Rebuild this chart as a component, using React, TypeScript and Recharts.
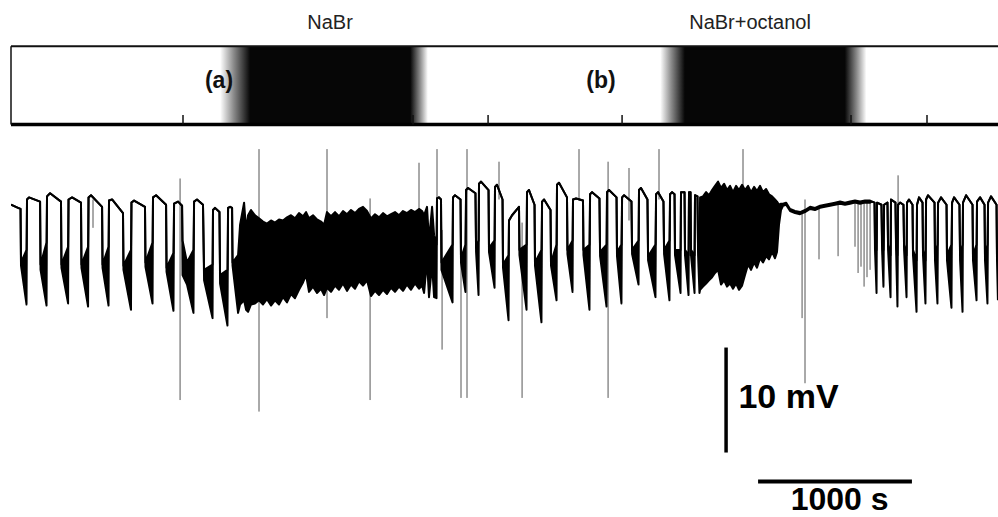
import { Area, ComposedChart, ReferenceArea, ReferenceDot, ReferenceLine, XAxis, YAxis } from 'recharts';

// membrane potential trace, min/max envelope per time step: [time s, upper mV, lower mV]
const burstsA: [number, number, number][] = [
  [0, 10.5, 10.5], [46, 10.2, 10.2], [62, 10.1, 10.1], [65, 5.0, 4.7], [101, 6.2, 1.0],
  [104, 11.0, 11.0], [117, 11.2, 11.2], [189, 10.8, 10.8], [192, 4.8, 4.3], [231, 6.9, 0.9],
  [234, 11.3, 11.3], [254, 11.6, 11.6], [325, 10.8, 10.8], [328, 4.8, 4.5], [371, 6.5, 1.1],
  [374, 11.0, 11.0], [397, 11.2, 11.2], [455, 10.7, 10.7], [458, 4.8, 4.5], [501, 6.5, 0.8],
  [504, 11.2, 11.2], [520, 11.4, 11.4], [592, 10.3, 10.3], [595, 4.8, 4.5], [634, 6.5, 0.9],
  [637, 10.9, 10.9], [657, 11.0, 11.0], [728, 9.7, 9.7], [731, 4.7, 4.3], [780, 6.2, 0.5],
  [783, 10.7, 10.7], [800, 10.9, 10.9], [871, 10.3, 10.3], [874, 5.0, 4.6], [920, 6.9, 1.1],
  [923, 11.2, 11.2], [943, 11.4, 11.4], [1008, 10.5, 10.5], [1011, 4.5, 4.1], [1056, 5.9, 0.4],
  [1060, 10.6, 10.6], [1086, 10.8, 10.8], [1112, 10.4, 10.4], [1115, 7.1, 3.8], [1144, 5.0, 2.9], [1186, 6.2, 0.2],
  [1190, 10.8, 10.8], [1209, 11.0, 11.0], [1248, 10.5, 10.5], [1255, 4.3, 3.3], [1310, 4.8, -0.3],
  [1313, 10.0, 10.0], [1326, 10.2, 10.2], [1355, 9.8, 9.8], [1359, 3.8, 3.0], [1407, 4.3, -1.0],
  [1411, 10.2, 10.2], [1424, 10.3, 10.3], [1437, 10.2, 10.2], [1440, 5.0, 4.7], [1476, 5.7, 0.2],
  [1489, 8.6, 1.0], [1515, 10.7, 1.4], [1528, 8.1, 0.5], [1541, 9.5, 0.3], [1560, 10.0, 1.0],
];

// NaBr: fast oscillation, envelope only
const denseA: [number, number, number][] = [
  [1586, 9.5, 1.1], [1612, 9.2, 1.4], [1638, 8.9, 1.0], [1664, 8.7, 1.5], [1690, 9.0, 0.9],
  [1716, 8.8, 1.4], [1742, 9.1, 1.0], [1768, 9.0, 1.7], [1794, 9.3, 1.2], [1820, 9.5, 2.0],
  [1846, 9.2, 1.6], [1872, 9.7, 2.4], [1898, 9.4, 3.1], [1918, 9.8, 3.8], [1937, 9.2, 2.2],
  [1963, 9.5, 2.7], [1989, 9.1, 2.1], [2015, 8.9, 2.5], [2035, 8.6, 1.9], [2054, 9.8, 2.6],
  [2080, 9.4, 2.2], [2106, 9.8, 2.8], [2132, 9.4, 2.4], [2158, 9.9, 3.0], [2184, 9.6, 2.3],
  [2210, 10.0, 2.9], [2236, 9.7, 2.5], [2262, 10.1, 3.2], [2288, 10.3, 2.8], [2314, 9.9, 3.3],
  [2340, 9.2, 1.8], [2366, 9.6, 2.3], [2392, 9.3, 1.9], [2418, 9.7, 2.4], [2444, 9.4, 2.0],
  [2470, 9.6, 2.6], [2496, 9.8, 2.2], [2522, 9.5, 2.7], [2548, 9.9, 2.3], [2574, 9.7, 2.9],
  [2600, 10.0, 2.4], [2626, 9.8, 3.0], [2652, 10.1, 2.5], [2672, 9.9, 2.8],
  [2685, 9.5, 2.1], [2704, 10.3, 5.2], [2717, 7.1, 1.7], [2737, 10.3, 4.8], [2750, 7.6, 1.7], [2766, 6.7, 1.6],
];

// washout bursts
const burstsB: [number, number, number][] = [
  [2769, 11.1, 11.1], [2782, 11.2, 11.2], [2795, 11.0, 11.0], [2798, 5.0, 4.3], [2870, 6.7, 1.2],
  [2873, 11.2, 11.2], [2886, 11.4, 11.4], [2922, 11.0, 11.0], [2925, 5.4, 5.0], [2954, 6.7, 2.2],
  [2958, 11.9, 11.9], [2971, 12.1, 12.1], [3019, 11.6, 11.6], [3023, 6.4, 6.0], [3039, 7.1, 1.9],
  [3042, 12.5, 12.5], [3055, 12.7, 12.7], [3104, 11.9, 11.9], [3107, 6.4, 6.0], [3143, 7.1, 2.6],
  [3146, 12.2, 12.2], [3159, 12.4, 12.4], [3195, 11.0, 11.0], [3198, 4.8, 4.5], [3234, 5.7, -0.5],
  [3237, 9.0, 9.0], [3257, 9.5, 9.5], [3302, 10.3, 10.3], [3305, 6.2, 5.7], [3351, 6.7, 0.5],
  [3354, 11.7, 11.7], [3367, 11.9, 11.9], [3403, 10.5, 10.5], [3406, 5.0, 4.7], [3448, 6.2, -0.7],
  [3452, 10.8, 10.8], [3465, 11.0, 11.0], [3507, 10.0, 10.0], [3510, 5.0, 4.7], [3546, 6.7, 1.4],
  [3549, 12.4, 12.4], [3562, 12.6, 12.6], [3614, 11.2, 11.2], [3617, 6.2, 5.8], [3650, 7.1, 2.2],
  [3653, 11.0, 11.0], [3673, 11.1, 11.1], [3718, 10.9, 10.9], [3721, 6.2, 5.7], [3760, 6.7, 0.5],
  [3764, 11.5, 11.5], [3777, 11.7, 11.7], [3825, 11.1, 11.1], [3829, 6.0, 5.6], [3871, 6.7, 0.8],
  [3874, 11.7, 11.7], [3887, 11.9, 11.9], [3936, 11.2, 11.2], [3939, 6.0, 5.6], [3968, 6.7, 1.1],
  [3972, 11.2, 11.2], [3985, 11.4, 11.4], [4033, 10.8, 10.8], [4037, 6.2, 5.8], [4079, 7.1, 2.9],
  [4082, 11.9, 11.9], [4095, 12.1, 12.1], [4137, 11.0, 11.0], [4141, 5.6, 5.2], [4189, 6.7, 1.7],
  [4193, 11.5, 11.5], [4206, 11.7, 11.7], [4241, 10.8, 10.8], [4245, 6.2, 5.8], [4280, 7.1, 1.4],
  [4284, 11.5, 11.5], [4297, 11.7, 11.7], [4313, 11.5, 11.5], [4316, 6.2, 5.7], [4352, 6.2, 2.1],
  [4355, 11.7, 11.7], [4378, 11.7, 11.7], [4381, 6.2, 5.7], [4404, 5.7, 1.9],
  [4407, 11.7, 11.7], [4417, 11.7, 11.7], [4420, 6.2, 5.7], [4443, 5.7, 2.1],
  [4446, 11.4, 11.4], [4462, 11.3, 11.3], [4466, 6.2, 5.7], [4475, 5.7, 2.1],
];

// NaBr+octanol: fast oscillation
const denseB: [number, number, number][] = [
  [4479, 11.2, 2.4], [4498, 11.3, 2.7], [4518, 11.7, 3.0], [4537, 11.4, 3.3], [4557, 11.9, 3.6],
  [4576, 12.3, 4.0], [4596, 12.7, 4.3], [4615, 12.1, 2.9], [4635, 12.5, 3.3], [4654, 11.9, 2.7],
  [4674, 12.3, 3.0], [4693, 11.7, 2.5], [4713, 12.3, 3.0], [4732, 11.9, 2.4], [4752, 12.4, 2.8],
  [4771, 11.9, 3.8], [4791, 12.3, 4.8], [4810, 11.7, 4.3], [4830, 12.2, 5.0], [4849, 11.8, 4.5],
  [4869, 12.3, 5.4], [4888, 11.7, 5.0], [4908, 12.0, 5.6], [4927, 11.5, 5.3], [4947, 11.3, 6.0],
  [4966, 11.0, 5.4], [4979, 10.8, 6.0], [4992, 10.5, 8.6], [5005, 10.6, 10.0],
];

// silent depolarised plateau
const quiet: [number, number, number][] = [
  [5018, 10.6, 10.4], [5038, 10.7, 10.5], [5064, 10.1, 9.9], [5096, 9.9, 9.7], [5129, 9.8, 9.6],
  [5161, 10.0, 9.8], [5194, 10.3, 10.1], [5226, 10.2, 10.0], [5259, 10.4, 10.2], [5291, 10.5, 10.3],
  [5324, 10.6, 10.4], [5356, 10.7, 10.5], [5389, 10.8, 10.6], [5421, 10.7, 10.5], [5454, 10.8, 10.6],
  [5486, 10.9, 10.7], [5519, 10.8, 10.6], [5551, 10.9, 10.7], [5584, 10.9, 10.7],
];

// recovery bursts
const burstsC: [number, number, number][] = [
  [5597, 10.8, 10.8], [5613, 10.7, 10.7], [5616, 7.1, 6.2], [5626, 6.2, 2.1],
  [5629, 10.7, 10.7], [5658, 10.5, 10.5], [5662, 7.1, 6.2], [5671, 6.2, 2.7],
  [5675, 10.5, 10.5], [5697, 10.7, 10.7], [5701, 6.7, 6.2], [5717, 5.7, 1.7],
  [5720, 11.0, 11.0], [5749, 10.7, 10.7], [5753, 6.7, 6.2], [5762, 5.7, 0.8],
  [5766, 10.5, 10.5], [5779, 10.7, 10.7], [5801, 10.5, 10.5], [5805, 6.7, 6.2], [5821, 5.7, 1.7],
  [5824, 10.7, 10.7], [5837, 11.0, 11.0], [5860, 10.5, 10.5], [5863, 6.2, 5.7], [5886, 5.2, 0.3],
  [5889, 10.5, 10.5], [5902, 11.2, 11.2], [5925, 10.7, 10.7], [5928, 6.2, 5.7], [5944, 5.2, 1.1],
  [5948, 11.0, 11.0], [5961, 11.4, 11.4], [6003, 10.7, 10.7], [6006, 5.7, 5.2], [6022, 6.7, 1.1],
  [6026, 10.7, 10.7], [6045, 11.2, 11.2], [6081, 10.5, 10.5], [6084, 5.7, 5.2], [6113, 6.7, 0.7],
  [6117, 10.7, 10.7], [6130, 11.2, 11.2], [6165, 10.5, 10.5], [6169, 5.7, 5.2], [6185, 6.7, 0.3],
  [6188, 10.7, 10.7], [6208, 11.4, 11.4], [6250, 10.5, 10.5], [6253, 5.7, 5.2], [6276, 6.7, 1.4],
  [6279, 10.8, 10.8], [6299, 11.2, 11.2], [6328, 10.5, 10.5], [6331, 5.7, 5.2], [6347, 6.7, 1.1],
  [6351, 10.7, 10.7], [6370, 11.3, 11.3], [6406, 10.5, 10.5], [6409, 5.7, 5.2], [6415, 5.7, 1.4],
];

// single-sample artefacts: [time s, top mV, bottom mV]
const spikes: [number, number, number][] = [
  [533, 11.0, 8.3], [1099, 13.0, -8.1], [1612, 15.8, -9.2], [2054, 15.8, -0.3], [2334, 11.1, -8.1],
  [2652, 14.5, 5.2], [2769, 15.8, 7.1], [2802, 8.1, -3.3], [2925, 8.8, -7.9], [2964, 15.8, -7.9],
  [3172, 14.6, 11.0], [3322, 8.8, -7.9], [3692, 15.8, 11.0], [3881, 14.6, -7.9], [4017, 14.0, 9.0],
  [4212, 15.8, 11.0], [4758, 15.8, 11.0], [5142, 9.8, -0.3], [5161, 11.0, -6.5], [5252, 10.2, 5.3],
  [5376, 10.6, 5.6], [5486, 10.8, 6.5], [5506, 10.8, 4.0], [5525, 10.8, 4.6], [5545, 10.8, 2.7],
  [5564, 10.8, 3.6], [5584, 10.8, 4.3], [5766, 13.3, 10.5],
];

const eventMarks = [1118, 2613, 3101, 3972, 5460, 5954];

const stimuli = [
  { name: 'NaBr', fadeIn: 1360, on: 1555, off: 2595, fadeOut: 2710, labelAt: 2074 },
  { name: 'NaBr+octanol', fadeIn: 4220, on: 4380, off: 5420, fadeOut: 5560, labelAt: 4804 },
];

const panelMarks = [
  { label: '(a)', t: 1352 },
  { label: '(b)', t: 3835 },
];

const scaleBar = { t: 4648, v: -13.1, mV: 10, s: 1000, hT: 4856, hV: -15.85 };

const FONT = '"Liberation Sans", Arial, Helvetica, sans-serif';
const T_END = 6415.5;
const BAR_TOP = 25.6;
const BAR_BOTTOM = 18.15;

export default function App() {
  const trace = [...burstsA, ...denseA, ...burstsB, ...denseB, ...quiet, ...burstsC].map(([t, hi, lo]) => ({
    t,
    range: [lo, hi] as [number, number],
  }));

  return (
    <div style={{ position: 'absolute', left: 0, top: 0, width: 998, height: 517, background: '#fff' }}>
      <ComposedChart width={998} height={517} data={trace} margin={{ top: 0, right: 0, bottom: 0, left: 11 }}>
        <defs>
          {stimuli.map((s, i) => {
            const span = s.fadeOut - s.fadeIn;
            const a = (s.on - s.fadeIn) / span;
            const b = (s.off - s.fadeIn) / span;
            return (
              <linearGradient key={s.name} id={`stim${i}`} x1="0" y1="0" x2="1" y2="0">
                <stop offset={0} stopColor="#ffffff" />
                <stop offset={a * 0.45} stopColor="#8a8a8a" />
                <stop offset={a} stopColor="#060606" />
                <stop offset={b} stopColor="#060606" />
                <stop offset={b + (1 - b) * 0.55} stopColor="#8a8a8a" />
                <stop offset={1} stopColor="#ffffff" />
              </linearGradient>
            );
          })}
        </defs>
        <XAxis type="number" dataKey="t" domain={[0, T_END]} allowDataOverflow hide />
        <YAxis type="number" domain={[-19.24, 30]} allowDataOverflow hide />

        {stimuli.map((s, i) => (
          <ReferenceArea
            key={s.name}
            x1={s.fadeIn}
            x2={s.fadeOut}
            y1={BAR_BOTTOM}
            y2={BAR_TOP}
            fill={`url(#stim${i})`}
            fillOpacity={1}
            stroke="none"
          />
        ))}
        <ReferenceLine segment={[{ x: 0, y: BAR_TOP }, { x: T_END, y: BAR_TOP }]} stroke="#111" strokeWidth={2} />
        <ReferenceLine segment={[{ x: 0, y: BAR_BOTTOM }, { x: T_END, y: BAR_BOTTOM }]} stroke="#000" strokeWidth={3.5} />
        <ReferenceLine segment={[{ x: 0, y: BAR_TOP }, { x: 0, y: BAR_BOTTOM }]} stroke="#111" strokeWidth={1.5} />
        {eventMarks.map((m) => (
          <ReferenceLine key={m} segment={[{ x: m, y: BAR_BOTTOM }, { x: m, y: 19.05 }]} stroke="#111" strokeWidth={1.5} />
        ))}
        {stimuli.map((s) => (
          <ReferenceDot
            key={`lbl-${s.name}`}
            x={s.labelAt}
            y={27.9}
            r={1}
            fill="none"
            stroke="none"
            label={{ value: s.name, position: 'center', fontSize: 20, fill: '#222', fontFamily: FONT }}
          />
        ))}
        {panelMarks.map((p) => (
          <ReferenceDot
            key={p.label}
            x={p.t}
            y={22.4}
            r={1}
            fill="none"
            stroke="none"
            label={{ value: p.label, position: 'center', fontSize: 23, fontWeight: 700, fill: '#111', fontFamily: FONT }}
          />
        ))}

        {spikes.map(([t, top, bottom]) => (
          <ReferenceLine
            key={`sp-${t}`}
            segment={[{ x: t, y: top }, { x: t, y: bottom }]}
            stroke="#555"
            strokeWidth={1}
            zIndex={50}
          />
        ))}
        <Area
          type="linear"
          dataKey="range"
          stroke="#000"
          strokeWidth={2}
          strokeLinejoin="round"
          fill="#000"
          fillOpacity={1}
          dot={false}
          activeDot={false}
          isAnimationActive={false}
        />

        <ReferenceLine
          segment={[{ x: scaleBar.t, y: scaleBar.v }, { x: scaleBar.t, y: scaleBar.v + scaleBar.mV }]}
          stroke="#000"
          strokeWidth={3.5}
        />
        <ReferenceLine
          segment={[{ x: scaleBar.hT, y: scaleBar.hV }, { x: scaleBar.hT + scaleBar.s, y: scaleBar.hV }]}
          stroke="#000"
          strokeWidth={4}
        />
        <ReferenceDot
          x={5054}
          y={-7.67}
          r={1}
          fill="none"
          stroke="none"
          label={{ value: `${scaleBar.mV} mV`, position: 'center', fontSize: 34, fontWeight: 700, fill: '#000', fontFamily: FONT }}
        />
        <ReferenceDot
          x={scaleBar.hT + scaleBar.s / 2 + 30}
          y={-17.45}
          r={1}
          fill="none"
          stroke="none"
          label={{ value: `${scaleBar.s} s`, position: 'center', fontSize: 32, fontWeight: 700, fill: '#000', fontFamily: FONT }}
        />
      </ComposedChart>
    </div>
  );
}
